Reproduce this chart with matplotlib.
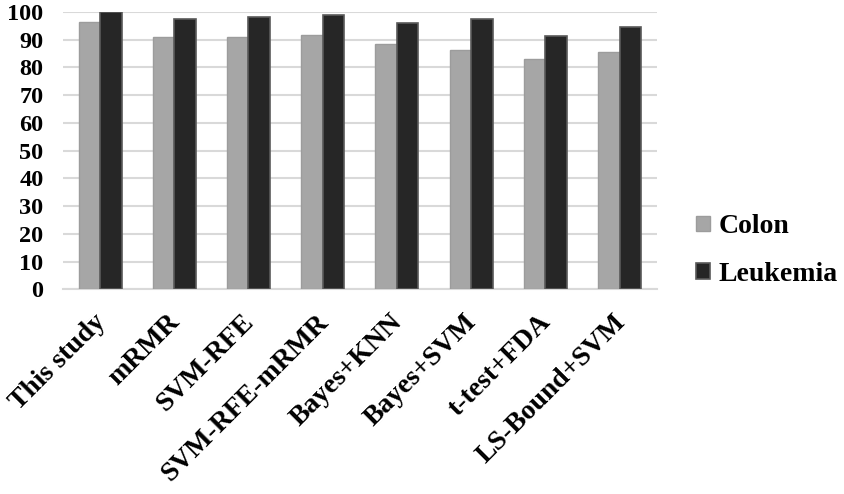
import matplotlib.pyplot as plt
import matplotlib.transforms as mtransforms
import numpy as np

methods = ['This study', 'mRMR', 'SVM-RFE', 'SVM-RFE-mRMR', 'Bayes+KNN',
           'Bayes+SVM', 't-test+FDA', 'LS-Bound+SVM']
colon = [96.3, 91.0, 91.0, 91.7, 88.3, 86.3, 83.0, 85.7]
leukemia = [100.0, 97.4, 98.1, 98.8, 95.9, 97.4, 91.5, 94.7]
yticks = [0, 10, 20, 30, 40, 50, 60, 70, 80, 90, 100]

plt.rcParams['font.family'] = ['Liberation Serif', 'DejaVu Serif']
plt.rcParams['font.weight'] = 'bold'

fig = plt.figure(figsize=(8.44, 4.94), dpi=100)
ax = fig.add_axes([0.0746, 0.4144, 0.7034, 0.5613])

x = np.arange(len(methods))
w = 0.29
ax.bar(x - w / 2, colon, w, color='#a6a6a6', edgecolor='#9c9c9c',
       linewidth=1, label='Colon', zorder=3)
ax.bar(x + w / 2, leukemia, w, color='#262626', edgecolor='#5a5a5a',
       linewidth=1.2, label='Leukemia', zorder=3)

ax.set_xlim(-0.5, len(methods) - 0.5)
ax.set_ylim(0, 100)
ax.set_yticks(yticks)
ax.yaxis.grid(True, color='#d9d9d9', linewidth=1.5, zorder=0)
for s in ['top', 'right', 'left']:
    ax.spines[s].set_visible(False)
ax.spines['bottom'].set_color('#d9d9d9')
ax.spines['bottom'].set_linewidth(1.5)
ax.tick_params(axis='y', length=0, labelsize=17.5, pad=14)
ax.tick_params(axis='x', length=0, pad=6)

ax.set_xticks(x)
ax.set_xticklabels(methods, rotation=45, ha='right', rotation_mode='anchor',
                   fontsize=20, fontweight='bold')
# nudge the slanted labels a bit left and down
shift = mtransforms.ScaledTranslation(-7 / 100, -12 / 100, fig.dpi_scale_trans)
for t in ax.get_xticklabels():
    t.set_transform(t.get_transform() + shift)
for t in ax.get_yticklabels():
    t.set_fontweight('bold')

ax.legend(loc='center left', bbox_to_anchor=(1.025, 0.14), frameon=False,
          handlelength=0.5, handleheight=0.5, handletextpad=0.3,
          labelspacing=0.8, prop={'weight': 'bold', 'size': 20})

fig.savefig('out.png', dpi=100)
